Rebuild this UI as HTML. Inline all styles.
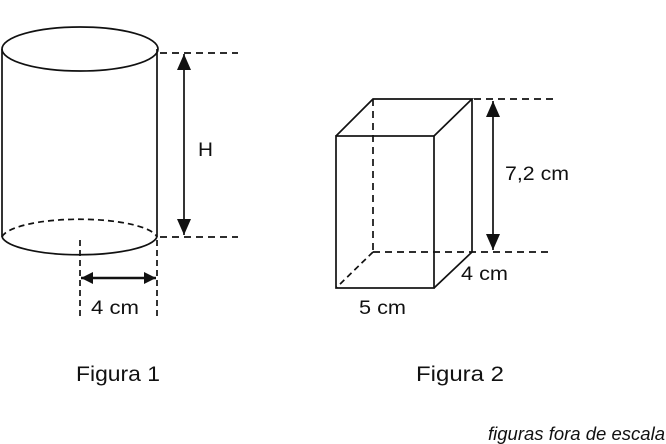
<!DOCTYPE html>
<html><head><meta charset="utf-8"><style>
html,body{margin:0;padding:0;background:#fff;}
svg{display:block;}
text{font-family:"Liberation Sans",sans-serif;fill:#111;}
</style></head><body>
<svg width="666" height="444" viewBox="0 0 666 444" xmlns="http://www.w3.org/2000/svg">
<defs>
<marker id="a2" viewBox="0 0 10 10" refX="10" refY="5" markerWidth="16" markerHeight="14" orient="auto-start-reverse" markerUnits="userSpaceOnUse" preserveAspectRatio="none">
<path d="M0,0 L10,5 L0,10 z" fill="#111"/>
</marker>
<marker id="a3" viewBox="0 0 10 10" refX="10" refY="5" markerWidth="12" markerHeight="12" orient="auto-start-reverse" markerUnits="userSpaceOnUse" preserveAspectRatio="none">
<path d="M0,0 L10,5 L0,10 z" fill="#111"/>
</marker>
</defs>
<g stroke="#111" fill="none" stroke-width="1.7">
<ellipse cx="80" cy="49" rx="78" ry="22"/>
<line x1="2" y1="49" x2="2" y2="237"/>
<line x1="157" y1="49" x2="157" y2="237"/>
<path d="M2,237 A78,20 0 0 0 157,237"/>
<path d="M2,237 A78,20 0 0 1 157,237" stroke-dasharray="6,4"/>
<line x1="160" y1="53" x2="238" y2="53" stroke-dasharray="7,5"/>
<line x1="160" y1="237" x2="238" y2="237" stroke-dasharray="7,5"/>
<line x1="184" y1="54" x2="184" y2="235" marker-start="url(#a2)" marker-end="url(#a2)"/>
<line x1="80" y1="240" x2="80" y2="320" stroke-dasharray="6,4"/>
<line x1="157" y1="240" x2="157" y2="320" stroke-dasharray="6,4"/>
<line x1="81" y1="278" x2="156" y2="278" stroke-width="2.5" marker-start="url(#a3)" marker-end="url(#a3)"/>
<rect x="336" y="136" width="98" height="152"/>
<polyline points="336,136 373,99 472,99 434,136"/>
<line x1="472" y1="99" x2="472" y2="252"/>
<line x1="472" y1="252" x2="434" y2="288"/>
<line x1="373" y1="99" x2="373" y2="252" stroke-dasharray="7,5"/>
<line x1="373" y1="252" x2="336" y2="288" stroke-dasharray="6,4"/>
<line x1="373" y1="252" x2="550" y2="252" stroke-dasharray="7,5"/>
<line x1="474" y1="99" x2="554" y2="99" stroke-dasharray="7,5"/>
<line x1="493" y1="101" x2="493" y2="250" marker-start="url(#a2)" marker-end="url(#a2)"/>
</g>
<text x="198" y="156" font-size="19" textLength="15" lengthAdjust="spacingAndGlyphs">H</text>
<text x="91" y="314" font-size="19" textLength="48" lengthAdjust="spacingAndGlyphs">4 cm</text>
<text x="505" y="180" font-size="19" textLength="64" lengthAdjust="spacingAndGlyphs">7,2 cm</text>
<text x="461" y="280" font-size="19" textLength="47" lengthAdjust="spacingAndGlyphs">4 cm</text>
<text x="359" y="314" font-size="19" textLength="47" lengthAdjust="spacingAndGlyphs">5 cm</text>
<text x="76" y="381" font-size="21" textLength="84" lengthAdjust="spacingAndGlyphs">Figura 1</text>
<text x="416" y="381" font-size="21" textLength="88" lengthAdjust="spacingAndGlyphs">Figura 2</text>
<text x="488" y="440" font-size="18" font-style="italic" textLength="177" lengthAdjust="spacingAndGlyphs">figuras fora de escala</text>
</svg>
</body></html>
